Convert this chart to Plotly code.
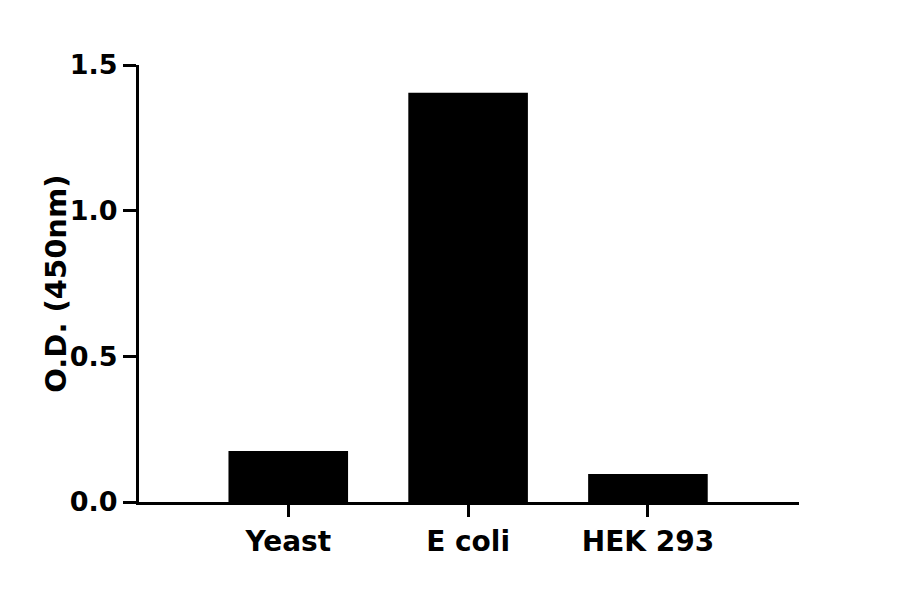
import plotly.graph_objects as go

categories = ["Yeast", "E coli", "HEK 293"]
od_values = [0.175, 1.405, 0.096]
y_tick_vals = [0.0, 0.5, 1.0, 1.5]
y_tick_text = ["0.0", "0.5", "1.0", "1.5"]
y_title = "O.D. (450nm)"

FONT = "DejaVu Sans"

fig = go.Figure()
fig.add_trace(go.Bar(
    x=categories,
    y=od_values,
    width=0.665,
    marker=dict(color="black", line=dict(width=0)),
))

fig.update_layout(
    width=884, height=578,
    paper_bgcolor="white", plot_bgcolor="white",
    margin=dict(l=131, r=93, t=57, b=84),
    showlegend=False,
    font=dict(family=FONT, color="black"),
)
fig.update_xaxes(
    type="category",
    range=[-0.83, 2.84],
    showline=True, linecolor="black", linewidth=3,
    ticks="outside", ticklen=12, tickwidth=3, tickcolor="black",
    tickfont=dict(family=FONT, size=28, color="black", weight="bold"),
    showgrid=False, zeroline=False,
)
fig.update_yaxes(
    range=[0, 1.5],
    tickvals=y_tick_vals, ticktext=y_tick_text,
    showline=True, linecolor="black", linewidth=3,
    ticks="outside", ticklen=13, tickwidth=3, tickcolor="black",
    tickfont=dict(family=FONT, size=27, color="black", weight="bold"),
    showgrid=False, zeroline=False,
)
fig.add_annotation(
    text=y_title, textangle=-90,
    xref="paper", yref="paper", x=-0.127, y=0.5,
    xanchor="center", yanchor="middle", showarrow=False,
    font=dict(family=FONT, size=29, color="black", weight="bold"),
)

fig.write_html("out.html")
